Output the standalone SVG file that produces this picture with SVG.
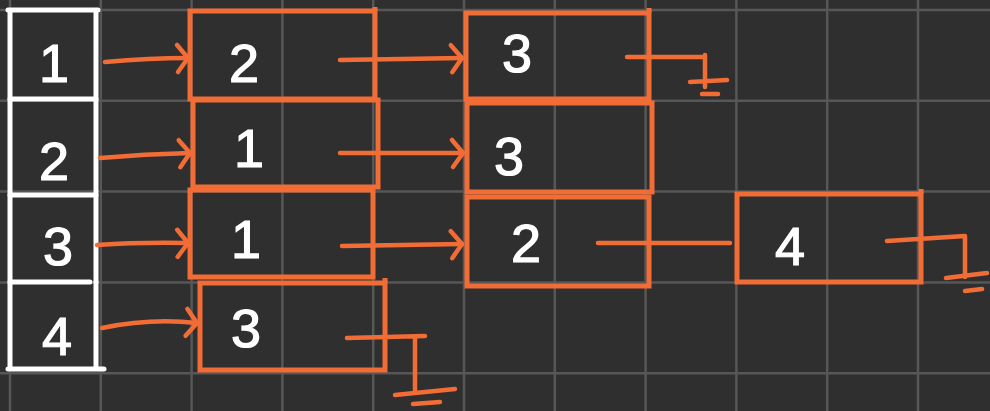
<svg xmlns="http://www.w3.org/2000/svg" width="990" height="411" viewBox="0 0 990 411">
<defs>
<style>
.grid line{stroke:#575757;stroke-width:2.5}
.tbl{fill:none;stroke:#ffffff;stroke-width:5;stroke-linecap:round}
.box{fill:none;stroke:#f26c36;stroke-width:5}
.lbl{fill:#ffffff;stroke:#ffffff;stroke-width:1.2;font-family:"Liberation Sans",Arial,sans-serif;font-size:54px;text-anchor:middle}
.c{fill:none;stroke:#f26c36;stroke-width:4.5;stroke-linecap:round;stroke-linejoin:round}
</style>
<marker id="ah" markerUnits="userSpaceOnUse" viewBox="-16 -16 20 32" refX="0" refY="0" markerWidth="20" markerHeight="32" orient="auto" overflow="visible">
<path d="M-11,-13 L0,0 L-10,14" fill="none" stroke="#f26c36" stroke-width="4.5" stroke-linecap="round" stroke-linejoin="round"/>
</marker>
</defs>
<rect x="0" y="0" width="990" height="411" fill="#2f2f2f"/>
<g class="grid">
<line x1="10" y1="0" x2="10" y2="411"/>
<line x1="100.8" y1="0" x2="100.8" y2="411"/>
<line x1="191.6" y1="0" x2="191.6" y2="411"/>
<line x1="282.4" y1="0" x2="282.4" y2="411"/>
<line x1="373.2" y1="0" x2="373.2" y2="411"/>
<line x1="464" y1="0" x2="464" y2="411"/>
<line x1="554.8" y1="0" x2="554.8" y2="411"/>
<line x1="645.6" y1="0" x2="645.6" y2="411"/>
<line x1="736.4" y1="0" x2="736.4" y2="411"/>
<line x1="827.2" y1="0" x2="827.2" y2="411"/>
<line x1="918" y1="0" x2="918" y2="411"/>
<line x1="0" y1="10" x2="990" y2="10"/>
<line x1="0" y1="100.8" x2="990" y2="100.8"/>
<line x1="0" y1="191.6" x2="990" y2="191.6"/>
<line x1="0" y1="282.4" x2="990" y2="282.4"/>
<line x1="0" y1="373.2" x2="990" y2="373.2"/>
</g>
<g id="array">
<g id="idx1"><path class="tbl" d="M8,10 L98,10 M10,10 L10,99 M96,10 L96,99"/><text class="lbl" x="54" y="82">1</text></g>
<g id="idx2"><path class="tbl" d="M10,99 L94,99 M10,99 L10,195 M96,99 L96,195"/><text class="lbl" x="54" y="180">2</text></g>
<g id="idx3"><path class="tbl" d="M10,195 L94,195 M10,195 L10,282 M96,195 L96,282"/><text class="lbl" x="58" y="265">3</text></g>
<g id="idx4"><path class="tbl" d="M10,282 L90,282 M10,282 L10,369 M96,282 L96,369 M8,369 L104,369"/><text class="lbl" x="57" y="355">4</text></g>
</g>
<g id="n1a"><rect class="box" x="190" y="11" width="185" height="88"/><line class="box" x1="375" y1="7" x2="375" y2="11"/><text class="lbl" x="244" y="82">2</text></g>
<g id="n2a"><rect class="box" x="193" y="100" width="185" height="87"/><text class="lbl" x="249" y="167">1</text></g>
<g id="n3a"><rect class="box" x="190" y="190" width="183" height="87"/><text class="lbl" x="246" y="258">1</text></g>
<g id="n4a"><rect class="box" x="200" y="283" width="185" height="87"/><line class="box" x1="385" y1="278" x2="385" y2="283"/><text class="lbl" x="246" y="347">3</text></g>
<g id="n1b"><rect class="box" x="466" y="13" width="183" height="86"/><line class="box" x1="649" y1="8" x2="649" y2="13"/><text class="lbl" x="517" y="72">3</text></g>
<g id="n2b"><rect class="box" x="467" y="103" width="185" height="89"/><text class="lbl" x="509" y="175">3</text></g>
<g id="n3b"><rect class="box" x="467" y="197" width="182" height="89"/><text class="lbl" x="526" y="262">2</text></g>
<g id="n3c"><rect class="box" x="737" y="194" width="184" height="88"/><line class="box" x1="921" y1="189" x2="921" y2="194"/><text class="lbl" x="790" y="265">4</text></g>
<g id="connectors">
<path class="c" d="M105,62 Q150,58 188,58" marker-end="url(#ah)"/>
<path class="c" d="M100,158 Q145,154 190,153" marker-end="url(#ah)"/>
<path class="c" d="M97,245 Q140,242 188,243" marker-end="url(#ah)"/>
<path class="c" d="M102,328 Q150,318 197,323" marker-end="url(#ah)"/>
<path class="c" d="M340,60 L462,58" marker-end="url(#ah)"/>
<path class="c" d="M340,153 L463,153" marker-end="url(#ah)"/>
<path class="c" d="M342,246 L462,244" marker-end="url(#ah)"/>
<path class="c" d="M598,243 L730,243"/>
<path class="c" d="M627,57 L705,57 M705,55 L705,87 M690,82 L727,80 M702,94 L718,94"/>
<path class="c" d="M887,241 L965,236 L965,277 M946,278 L987,273 M965,291 L982,289"/>
<path class="c" d="M347,338 L425,336 M415,338 L415,392 M395,395 L455,389 M413,404 L440,402"/>
</g>
</svg>
